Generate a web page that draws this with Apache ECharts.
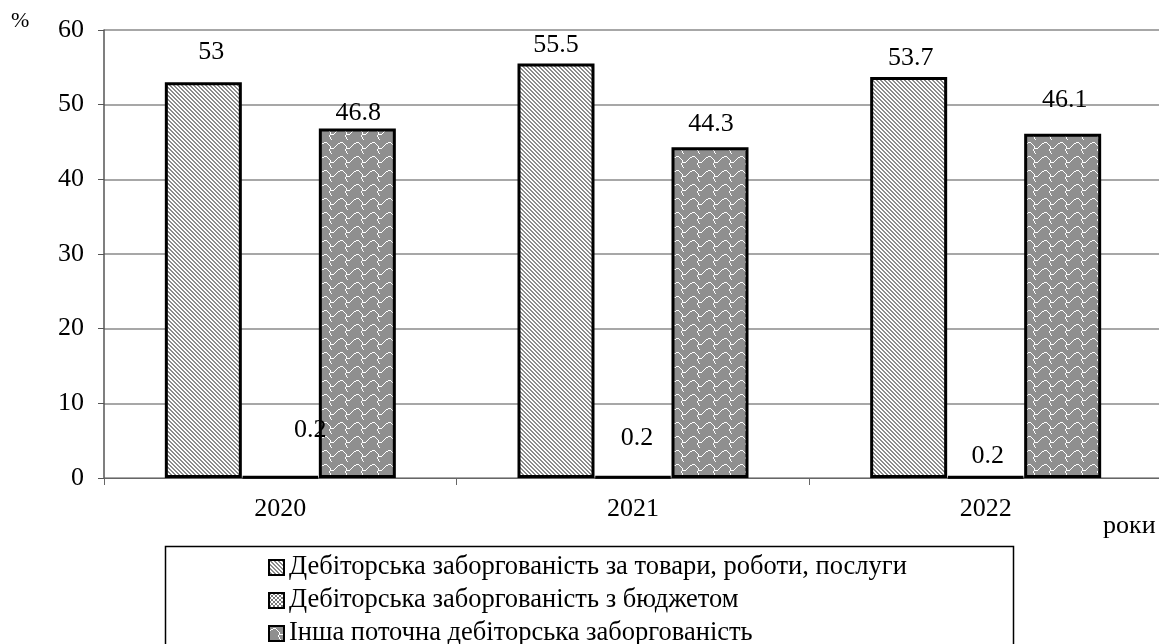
<!DOCTYPE html>
<html>
<head>
<meta charset="utf-8">
<script src="https://cdn.jsdelivr.net/npm/echarts@6/dist/echarts.min.js"></script>
<style>
  html, body { margin: 0; padding: 0; background: #fff; }
  #chart { width: 1159px; height: 644px; }
</style>
</head>
<body>
<div id="chart"></div>
<script>
// Structure of receivables, %
const years = ['2020', '2021', '2022'];
const seriesNames = [
  'Дебіторська заборгованість за товари, роботи, послуги',
  'Дебіторська заборгованість з бюджетом',
  'Інша поточна дебіторська заборгованість'
];
const tradeReceivables = [53, 55.5, 53.7];
const budgetReceivables = [0.2, 0.2, 0.2];
const otherReceivables = [46.8, 44.3, 46.1];
const yTicks = [0, 10, 20, 30, 40, 50, 60];

// Hand-placed label nudges [dx, dy] for each point of each series
const labelNudge = [
  [[8, -12], [0, 0], [2, -1]],
  [[30, -28], [4, -20], [2, -2]],
  [[1, 3], [1, -5], [2, -16]]
];

const FONT = '"Liberation Serif", "Times New Roman", serif';
const FS = 26;

function makeTile(w, h, draw) {
  const c = document.createElement('canvas');
  c.width = w; c.height = h;
  const ctx = c.getContext('2d');
  draw(ctx);
  return { image: c, repeat: 'repeat' };
}

// diagonal grey/white stripes
const stripePattern = makeTile(4, 4, ctx => {
  ctx.fillStyle = '#ffffff';
  ctx.fillRect(0, 0, 4, 4);
  ctx.fillStyle = '#8c8c8c';
  for (let y = 0; y < 4; y++) {
    ctx.fillRect(y, y, 1, 1);
    ctx.fillRect((y + 1) % 4, y, 1, 1);
  }
});

// small dotted grid
const dotPattern = makeTile(4, 4, ctx => {
  ctx.fillStyle = '#ffffff';
  ctx.fillRect(0, 0, 4, 4);
  ctx.fillStyle = '#7a7a7a';
  ctx.fillRect(0, 0, 2, 2);
  ctx.fillRect(2, 2, 2, 2);
});

// grey shingles with thin white wavy outlines
const shinglePattern = makeTile(16, 14, ctx => {
  ctx.fillStyle = '#8f8f8f';
  ctx.fillRect(0, 0, 16, 14);
  ctx.fillStyle = '#ffffff';
  const px = [
    [0, 5], [1, 4], [2, 3], [3, 3], [4, 2], [5, 2], [6, 2], [7, 3], [8, 4],
    [9, 5], [10, 6], [10, 7], [11, 8], [12, 8], [13, 8], [14, 7], [15, 6],
    [10, 8], [9, 9], [9, 10], [10, 11], [10, 12], [11, 13]
  ];
  px.forEach(p => ctx.fillRect(p[0], p[1], 1, 1));
});

const patterns = [stripePattern, dotPattern, shinglePattern];
const values = [tradeReceivables, budgetReceivables, otherReceivables];

const chart = echarts.init(document.getElementById('chart'));

const series = seriesNames.map((name, si) => ({
  name: name,
  type: 'bar',
  barWidth: 77,
  barGap: '0%',
  data: values[si].map((v, i) => ({
    value: v,
    label: { offset: labelNudge[si][i] }
  })),
  itemStyle: {
    color: patterns[si],
    borderColor: '#000',
    borderWidth: 3
  },
  label: {
    show: true,
    position: 'top',
    distance: 5,
    color: '#000',
    fontFamily: FONT,
    fontSize: FS
  }
}));

chart.setOption({
  animation: false,
  backgroundColor: '#fff',
  textStyle: { fontFamily: FONT },
  grid: { left: 104, width: 1058, top: 30, bottom: 166, outerBoundsMode: 'none' },
  xAxis: {
    type: 'category',
    data: years,
    boundaryGap: true,
    axisLine: { lineStyle: { color: '#666', width: 1 } },
    axisTick: { show: true, length: 7, lineStyle: { color: '#666' } },
    axisLabel: { color: '#000', fontFamily: FONT, fontSize: FS, margin: 18 }
  },
  yAxis: {
    type: 'value',
    min: yTicks[0],
    max: yTicks[yTicks.length - 1],
    interval: 10,
    axisLine: { show: true, lineStyle: { color: '#555', width: 1.5 } },
    axisTick: { show: true, length: 6, lineStyle: { color: '#555' } },
    axisLabel: { color: '#000', fontFamily: FONT, fontSize: FS, margin: 20 },
    splitLine: { lineStyle: { color: '#8a8a8a', width: 1.5 } }
  },
  legend: {
    orient: 'vertical',
    left: 268,
    top: 554,
    height: 140,
    padding: 0,
    itemWidth: 15,
    itemHeight: 15,
    itemGap: 6,
    itemStyle: { borderColor: '#000', borderWidth: 2 },
    textStyle: { color: '#000', fontFamily: FONT, fontSize: 26.5 },
    icon: 'rect',
    data: seriesNames
  },
  graphic: [
    {
      type: 'rect',
      z: -1,
      shape: { x: 165.5, y: 546.5, width: 848, height: 120 },
      style: { fill: '#fff', stroke: '#000', lineWidth: 1.5 }
    },
    {
      type: 'text',
      left: 11,
      top: 10,
      style: { text: '%', fill: '#000', font: '22px ' + FONT }
    },
    {
      type: 'text',
      left: 1103,
      top: 513,
      style: { text: 'роки', fill: '#000', font: FS + 'px ' + FONT }
    }
  ],
  series: series
});
</script>
</body>
</html>
